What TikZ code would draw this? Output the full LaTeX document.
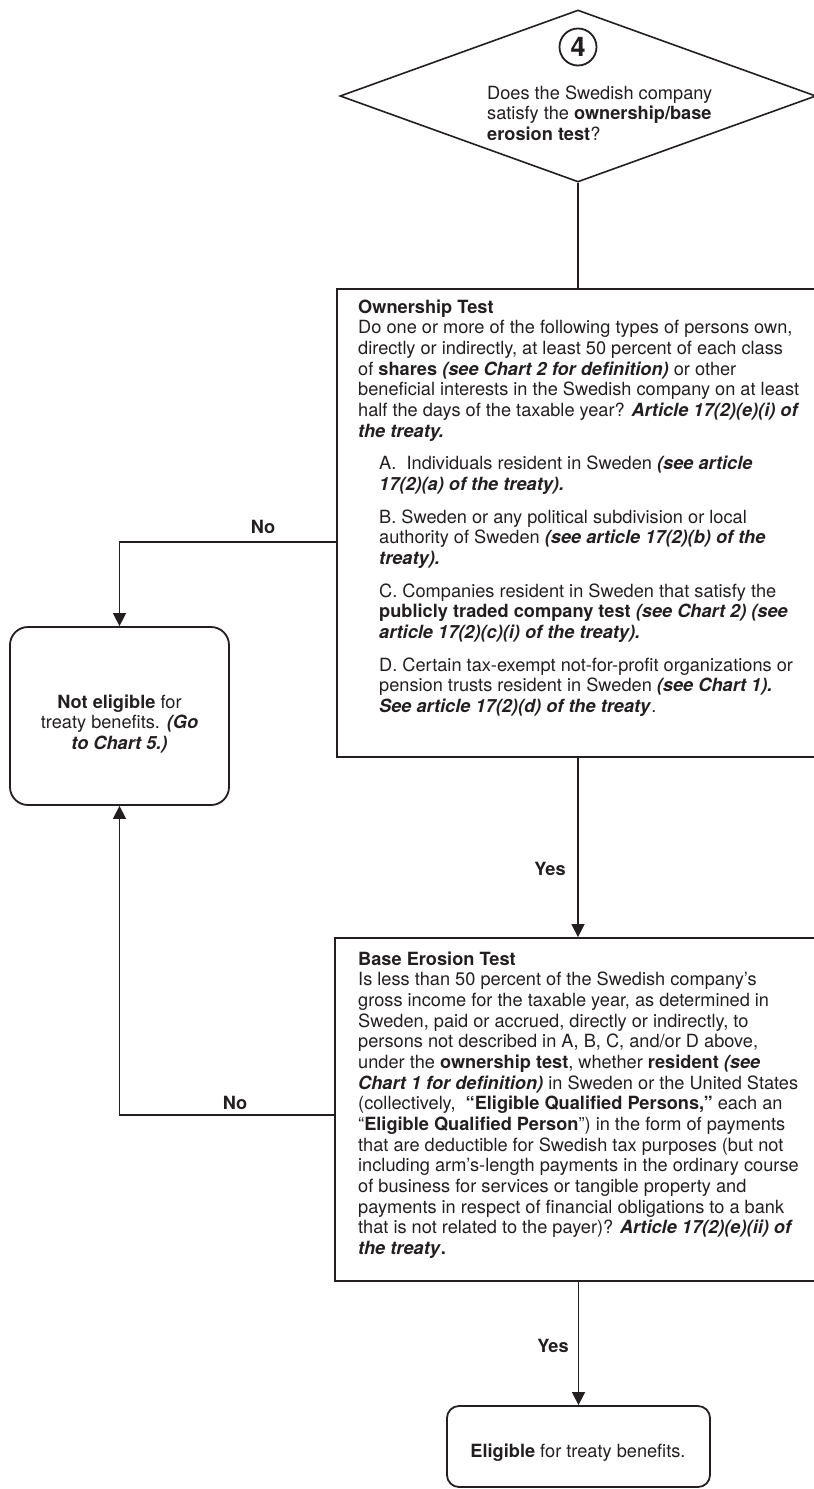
\documentclass[tikz,border=0pt]{standalone}
\usepackage{fontspec}
\setmainfont{TeX Gyre Heros}
\usetikzlibrary{arrows.meta,shapes.geometric}
\definecolor{ink}{HTML}{231F20}
\newcommand{\bi}[1]{\textbf{\textit{#1}}}
\newcommand{\ind}{\hspace*{21pt}}
\newcommand{\fst}{\rule{0pt}{15pt}}
\begin{document}
\begin{tikzpicture}[x=1pt,y=-1pt,
  every node/.style={text=ink},
  txt/.style={font=\fontsize{18.2}{20.67}\selectfont, inner sep=0pt},
  body/.style={txt, align=left, anchor=north west},
  boxsq/.style={draw=ink, line width=1.8pt, inner sep=0pt},
  boxrd/.style={boxsq, rounded corners=#1},
  conn/.style={draw=ink, line width=1.5pt},
  arr/.style={conn, -{Triangle[length=13pt,width=13pt]}},
  lbl/.style={font=\fontsize{18.2}{20}\selectfont\bfseries, inner sep=0pt, anchor=base}]
\useasboundingbox (0,0) rectangle (814,1489);

% decision diamond
\node (dia) [diamond, draw=ink, line width=1.6pt, inner sep=0pt,
  minimum width=476pt, minimum height=172pt] at (578,96) {};
\node (num) [circle, draw=ink, line width=1.8pt, minimum size=37pt, inner sep=0pt,
  font=\fontsize{27}{27}\selectfont\bfseries] at (578,47) {4};
\node (diatxt) [body] at (487,84) {\fst Does the Swedish company\\
satisfy the \textbf{ownership/base}\\
\textbf{erosion test}?};

% ownership test box
\node (own) [boxsq, minimum width=485pt, minimum height=468pt] at (579.5,523) {};
\node (owntxt) [body] at (358,298) {\fst\textbf{Ownership Test}\\
Do one or more of the following types of persons own,\\
directly or indirectly, at least 50 percent of each class\\
of \textbf{shares \textit{(see Chart 2 for definition)}} or other\\
beneficial interests in the Swedish company on at least\\
half the days of the taxable year? \bi{Article 17(2)(e)(i) of}\\
\bi{the treaty.}\\[12pt]
\ind A.\ \ Individuals resident in Sweden \bi{(see article}\\
\ind\bi{17(2)(a) of the treaty).}\\[12pt]
\ind B. Sweden or any political subdivision or local\\
\ind authority of Sweden \bi{(see article 17(2)(b) of the}\\
\ind\bi{treaty).}\\[12pt]
\ind C. Companies resident in Sweden that satisfy the\\
\ind\textbf{publicly traded company test} \bi{(see Chart 2) (see}\\
\ind\bi{article 17(2)(c)(i) of the treaty).}\\[12pt]
\ind D. Certain tax-exempt not-for-profit organizations or\\
\ind pension trusts resident in Sweden \bi{(see Chart 1).}\\
\ind\bi{See article 17(2)(d) of the treaty}.};

% base erosion box
\node (base) [boxsq, minimum width=487pt, minimum height=343pt] at (578.5,1109.5) {};
\node (basetxt) [body] at (358,950) {\fst\textbf{Base Erosion Test}\\
Is less than 50 percent of the Swedish company’s\\
gross income for the taxable year, as determined in\\
Sweden, paid or accrued, directly or indirectly, to\\
persons not described in A, B, C, and/or D above,\\
under the \textbf{ownership test}, whether \textbf{resident \textit{(see}}\\
\bi{Chart 1 for definition)} in Sweden or the United States\\
(collectively,\ \ \textbf{“Eligible Qualified Persons,”} each an\\
“\textbf{Eligible Qualified Person}”) in the form of payments\\
that are deductible for Swedish tax purposes (but not\\
including arm’s-length payments in the ordinary course\\
of business for services or tangible property and\\
payments in respect of financial obligations to a bank\\
that is not related to the payer)? \bi{Article 17(2)(e)(ii) of}\\
\bi{the treaty}\textbf{.}};

% outcome boxes
\node (ne) [boxrd=18pt, minimum width=219pt, minimum height=178pt] at (119.5,716) {};
\node (netxt) [txt, align=center, anchor=north] at (119.5,693) {\fst\textbf{Not eligible} for\\
treaty benefits. \bi{(Go}\\
\bi{to Chart 5.)}};
\node (el) [boxrd=12pt, minimum width=263pt, minimum height=81pt] at (578.5,1446.5) {};
\node (eltxt) [txt, anchor=base] at (578,1457) {\textbf{Eligible} for treaty benefits.};

% connectors
\draw[conn] (dia.south) -- (dia.south |- own.north);
\draw[arr] ([yshift=-19pt]own.west) -| (ne.north);
\draw[arr] (dia.south |- own.south) -- (dia.south |- base.north);
\draw[arr] ([yshift=-5.5pt]base.west) -| (ne.south);
\draw[arr] (el.north |- base.south) -- (el.north);

% labels
\node (no1) [lbl] at (263,533) {No};
\node (yes1) [lbl] at (550,875) {Yes};
\node (no2) [lbl] at (235,1109) {No};
\node (yes2) [lbl] at (553,1352) {Yes};
\end{tikzpicture}
\end{document}
